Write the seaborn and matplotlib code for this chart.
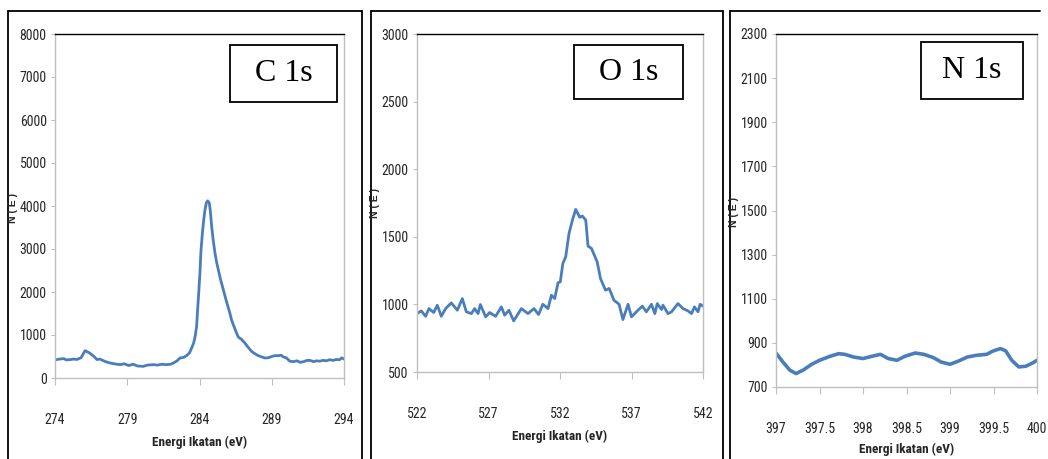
import matplotlib
matplotlib.use("Agg")
import matplotlib.pyplot as plt
from matplotlib import font_manager
from matplotlib.lines import Line2D
from matplotlib.patches import Rectangle
import seaborn as sns
import pandas as pd

# --- C 1s spectrum ---
c1s_energy = [274.0, 274.3, 274.6, 274.8, 275.0, 275.3, 275.5, 275.8, 276.08, 276.4, 276.7,
              276.9, 277.1, 277.3, 277.5, 277.8, 278.1, 278.5, 278.8, 279.1, 279.4, 279.7,
              280.1, 280.4, 280.8, 281.1, 281.4, 281.7, 282.0, 282.2, 282.45, 282.65, 282.9,
              283.1, 283.3, 283.46, 283.6, 283.7, 283.8, 283.87, 283.95, 284.03, 284.1,
              284.2, 284.3, 284.38, 284.48, 284.57, 284.68, 284.76, 284.84, 284.95, 285.07,
              285.18, 285.3, 285.45, 285.65, 285.85, 286.1, 286.22, 286.34, 286.5, 286.69,
              286.9, 287.15, 287.35, 287.6, 287.85, 288.07, 288.3, 288.53, 288.75, 289.0,
              289.2, 289.45, 289.65, 289.8, 290.0, 290.26, 290.5, 290.75, 290.95, 291.2,
              291.45, 291.65, 291.9, 292.1, 292.3, 292.55, 292.8, 293.0, 293.25, 293.45,
              293.7, 293.85, 294.0]
c1s_counts = [420, 440, 450, 420, 426, 440, 430, 470, 636, 580, 500,
              430, 440, 410, 380, 350, 330, 310, 330, 290, 320, 280,
              270, 300, 310, 300, 320, 310, 320, 350, 400, 465, 480,
              520, 580, 700, 820, 970, 1200, 1590, 2000, 2440, 2950,
              3370, 3700, 3910, 4080, 4120, 4070, 3850, 3530, 3200, 2910,
              2700, 2520, 2300, 2050, 1800, 1510, 1350, 1240, 1100, 950,
              900, 810, 720, 620, 560, 520, 490, 465, 470, 500,
              520, 520, 530, 490, 470, 390, 380, 400, 365, 380,
              410, 410, 380, 400, 390, 410, 400, 426, 410, 430,
              426, 470, 440]

# --- O 1s spectrum ---
o1s_energy = [522.0, 522.3, 522.6, 522.84, 523.17, 523.42, 523.7, 524.0, 524.4, 524.82,
              525.17, 525.45, 525.8, 526.03, 526.27, 526.43, 526.8, 527.08, 527.5, 527.9,
              528.13, 528.43, 528.76, 529.3, 529.76, 530.18, 530.5, 530.8, 531.16, 531.4,
              531.63, 531.86, 532.02, 532.2, 532.4, 532.63, 532.87, 533.1, 533.38, 533.56,
              533.8, 533.96, 534.2, 534.6, 534.83, 535.18, 535.44, 535.77, 536.13, 536.4,
              536.76, 537.0, 537.45, 537.76, 538.04, 538.4, 538.63, 538.8, 539.1, 539.2,
              539.55, 539.8, 540.25, 540.6, 540.95, 541.2, 541.4, 541.65, 541.8, 542.0]
o1s_counts = [932, 952, 912, 969, 940, 994, 912, 969, 1011, 957,
              1043, 945, 932, 969, 932, 999, 908, 940, 912, 982,
              920, 957, 878, 969, 932, 969, 925, 1001, 969, 1068,
              1043, 1160, 1167, 1303, 1352, 1525, 1624, 1703, 1644, 1654,
              1624, 1431, 1414, 1315, 1192, 1105, 1118, 1031, 1001, 888,
              1001, 908, 957, 987, 945, 1001, 932, 1006, 962, 994,
              932, 945, 1006, 969, 952, 932, 982, 945, 1001, 987]

# --- N 1s spectrum ---
n1s_energy = [397.0, 397.08, 397.16, 397.23, 397.31, 397.41, 397.5, 397.62, 397.72, 397.79,
              397.89, 398.0, 398.1, 398.2, 398.29, 398.39, 398.48, 398.6, 398.7, 398.81,
              398.9, 399.0, 399.1, 399.2, 399.31, 399.42, 399.5, 399.58, 399.64, 399.71,
              399.79, 399.87, 399.95, 400.0]
n1s_counts = [854, 813, 776, 761, 776, 803, 821, 839, 851, 848,
              836, 829, 839, 848, 829, 821, 839, 854, 848, 833,
              813, 803, 818, 836, 844, 848, 864, 874, 864, 821,
              791, 794, 809, 821]

panel_titles = ["C 1s", "O 1s", "N 1s"]
x_ticks = [[274, 279, 284, 289, 294], [522, 527, 532, 537, 542],
           [397, 397.5, 398, 398.5, 399, 399.5, 400]]
x_tick_labels = [["274", "279", "284", "289", "294"], ["522", "527", "532", "537", "542"],
                 ["397", "397.5", "398", "398.5", "399", "399.5", "400"]]
y_ticks = [[0, 1000, 2000, 3000, 4000, 5000, 6000, 7000, 8000],
           [500, 1000, 1500, 2000, 2500, 3000],
           [700, 900, 1100, 1300, 1500, 1700, 1900, 2100, 2300]]
x_label = "Energi Ikatan (eV)"
y_label = "N ( E )"

sns.set_theme(style="white")


def pick_narrow_font():
    """Return (family, stretch) of the narrowest sans font that is installed."""
    fonts = font_manager.fontManager.ttflist
    names = {f.name for f in fonts}
    for fam in ("Liberation Sans Narrow", "Roboto Condensed", "Open Sans Condensed",
                "Noto Sans Condensed", "DejaVu Sans Condensed"):
        if fam in names:
            return fam, "normal"
    for f in fonts:
        if f.name in ("DejaVu Sans", "Noto Sans", "Roboto") and \
                str(f.stretch) in ("condensed", "semi-condensed", "extra-condensed"):
            return f.name, f.stretch
    return None, "normal"


narrow_family, narrow_stretch = pick_narrow_font()
if narrow_family:
    plt.rcParams["font.family"] = [narrow_family, "Liberation Sans", "DejaVu Sans"]
    plt.rcParams["font.stretch"] = narrow_stretch
    tick_size = 10
else:
    plt.rcParams["font.family"] = ["Liberation Sans", "DejaVu Sans"]
    tick_size = 8.5

W, H = 1048, 459
fig = plt.figure(figsize=(W / 100, H / 100), dpi=100)
fig.patch.set_facecolor("white")


def px_rect(left, top, right, bottom):
    return [left / W, (H - bottom) / H, (right - left) / W, (bottom - top) / H]


# plot-area extents (pixels) and layout details per panel
layout = [
    dict(ax=(55, 34, 344, 378), box=(230, 45, 337, 102), ylab_x=18, ylab_y=208,
         xlab_y=442, lw=2.0),
    dict(ax=(417, 34, 703, 372), box=(574, 45, 683, 99), ylab_x=380, ylab_y=203,
         xlab_y=436, lw=2.0),
    dict(ax=(776, 34, 1037, 387), box=(921, 42, 1023, 99), ylab_x=739, ylab_y=212,
         xlab_y=449, lw=2.6),
]
spectra = [(c1s_energy, c1s_counts), (o1s_energy, o1s_counts), (n1s_energy, n1s_counts)]

line_color = "#4a7ebb"
axis_gray = "#bfbfbf"

for i, (cfg, (ex, cy)) in enumerate(zip(layout, spectra)):
    l, t, r, b = cfg["ax"]
    ax = fig.add_axes(px_rect(l, t, r, b))
    df = pd.DataFrame({"energy": ex, "counts": cy})
    sns.lineplot(data=df, x="energy", y="counts", ax=ax, color=line_color,
                 linewidth=cfg["lw"], sort=False, estimator=None)
    ax.set_xlim(x_ticks[i][0], x_ticks[i][-1])
    ax.set_ylim(y_ticks[i][0], y_ticks[i][-1])
    ax.set_xticks(x_ticks[i])
    ax.set_xticklabels(x_tick_labels[i])
    ax.set_yticks(y_ticks[i])
    ax.set_yticklabels([str(v) for v in y_ticks[i]])
    ax.tick_params(axis="x", direction="out", length=5, width=0.8, color=axis_gray,
                   pad=20, labelsize=tick_size, labelcolor="#262626", bottom=True)
    ax.tick_params(axis="y", direction="out", length=3, width=0.8, color=axis_gray,
                   pad=3, labelsize=tick_size, labelcolor="#262626", left=True)
    for side in ("left", "bottom", "right"):
        ax.spines[side].set_color(axis_gray)
        ax.spines[side].set_linewidth(1.0)
    ax.spines["top"].set_color("black")
    ax.spines["top"].set_linewidth(1.0)
    ax.set_xlabel("")
    ax.set_ylabel("")
    ax.grid(False)

    # axis titles
    fig.text((l + r) / 2 / W, 1 - cfg["xlab_y"] / H, x_label, ha="center", va="center",
             fontsize=9.5, fontweight="bold", color="#262626")
    fig.text(cfg["ylab_x"] / W, 1 - cfg["ylab_y"] / H, y_label, ha="right",
             va="center", rotation=90, fontsize=7.5, fontweight="bold", color="#262626",
             family=["Liberation Sans", "DejaVu Sans"], stretch="normal")

    # element label box
    bl, bt, br, bb = cfg["box"]
    fig.add_artist(Rectangle((bl / W, 1 - bb / H), (br - bl) / W, (bb - bt) / H,
                             transform=fig.transFigure, fill=False, edgecolor="black",
                             linewidth=1.3))
    fig.text((bl + br) / 2 / W, 1 - (bt + bb) / 2 / H, panel_titles[i], ha="center",
             va="center", fontsize=23, color="black",
             family=["Liberation Serif", "DejaVu Serif"], stretch="normal")

# panel frames
frame_lines = [
    ((8, 8), (11, 459)), ((8, 362), (11, 11)), ((362, 362), (11, 459)),
    ((371, 371), (11, 459)), ((371, 723), (11, 11)), ((723, 723), (11, 459)),
    ((730, 730), (11, 459)), ((730, 1040), (11, 11)),
]
for xs, ys in frame_lines:
    fig.add_artist(Line2D([x / W for x in xs], [1 - y / H for y in ys],
                          transform=fig.transFigure, color="black", linewidth=1.3))

fig.savefig("out.png", dpi=100, facecolor="white")
